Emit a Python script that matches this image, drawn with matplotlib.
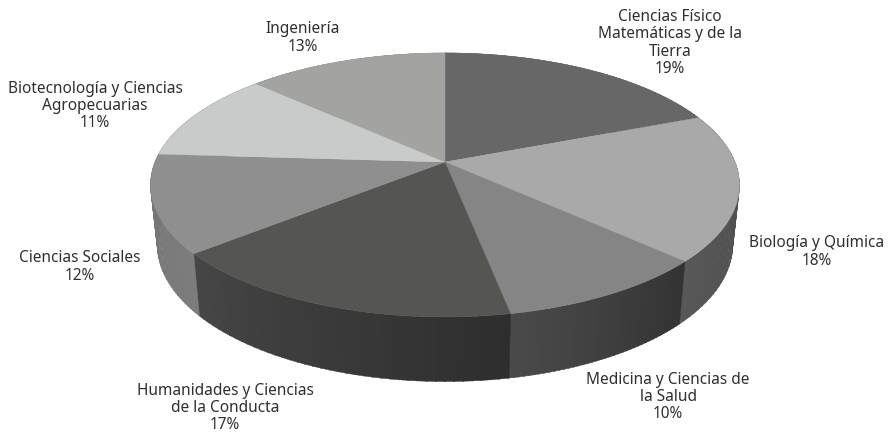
import numpy as np
import matplotlib
matplotlib.use("Agg")
import matplotlib.pyplot as plt

# shares per field, clockwise from the top of the pie
fields = ["Ciencias Físico\nMatemáticas y de la\nTierra", "Biología y Química",
          "Medicina y Ciencias de\nla Salud", "Humanidades y Ciencias\nde la Conducta",
          "Ciencias Sociales", "Biotecnología y Ciencias\nAgropecuarias", "Ingeniería"]
shares = [19, 18, 10, 17, 12, 11, 13]

top_colors = ["#676767", "#a8a9a8", "#858585", "#555553", "#8f8f8f", "#c9caca", "#a3a3a1"]
side_from = ["#555555", "#444444", "#333333", "#2e2e2e", "#7c7c7c", "#777777", "#777777"]
side_to = ["#555555", "#585858", "#4a4a4a", "#464646", "#747474", "#777777", "#777777"]
label_pos = [(670, 43), (817, 252), (668, 397), (225, 408), (80, 267), (95, 106), (303, 38)]

# pie geometry in pixels, fitted to the picture (circle seen in perspective)
APEX_X, APEX_Y = 445, 162
RX, RY, PERSP = 290, 128, 0.174
BOTTOM_Y, BOTTOM_SX, BOTTOM_SY = 221, 0.977, 1.036


def project(theta, r=1.0):
    # theta in radians clockwise from the back of the pie
    u = r * np.sin(theta)
    v = r * np.cos(theta)
    d = 1 + PERSP * v
    return APEX_X + RX * u / d, APEX_Y - RY * v / d


def project_bottom(theta):
    x, y = project(theta)
    return APEX_X + (x - APEX_X) * BOTTOM_SX, BOTTOM_Y + (y - APEX_Y) * BOTTOM_SY


def hex_rgb(c):
    return np.array(matplotlib.colors.to_rgb(c))


fig = plt.figure(figsize=(8.91, 4.38), dpi=100)
ax = fig.add_axes([0, 0, 1, 1])
ax.set_xlim(0, 891)
ax.set_ylim(438, 0)
ax.axis("off")

edges = np.cumsum([0] + shares) / sum(shares) * 2 * np.pi

# side wall first, small strips so the shading runs along each slice
for i in range(len(shares)):
    steps = np.linspace(edges[i], edges[i + 1], 41)
    for j in range(40):
        t = np.array([steps[j], steps[j + 1] + 0.004])
        xt, yt = project(t)
        xb, yb = project_bottom(t)
        mix = j / 39
        col = hex_rgb(side_from[i]) * (1 - mix) + hex_rgb(side_to[i]) * mix
        ax.fill([xt[0], xt[1], xb[1], xb[0]], [yt[0], yt[1], yb[1], yb[0]],
                color=col, lw=0.3, zorder=2)

# top face
for i in range(len(shares)):
    t = np.linspace(edges[i], edges[i + 1], 120)
    x, y = project(t)
    ax.fill(np.r_[APEX_X, x], np.r_[APEX_Y, y], color=top_colors[i], lw=0.3, zorder=3)

for name, share, (lx, ly) in zip(fields, shares, label_pos):
    ax.text(lx, ly, f"{name}\n{share}%", ha="center", va="center", fontsize=11.1,
            family="Noto Sans", color="#2f2f2f", linespacing=1.12)

fig.savefig("out.png", dpi=100)
